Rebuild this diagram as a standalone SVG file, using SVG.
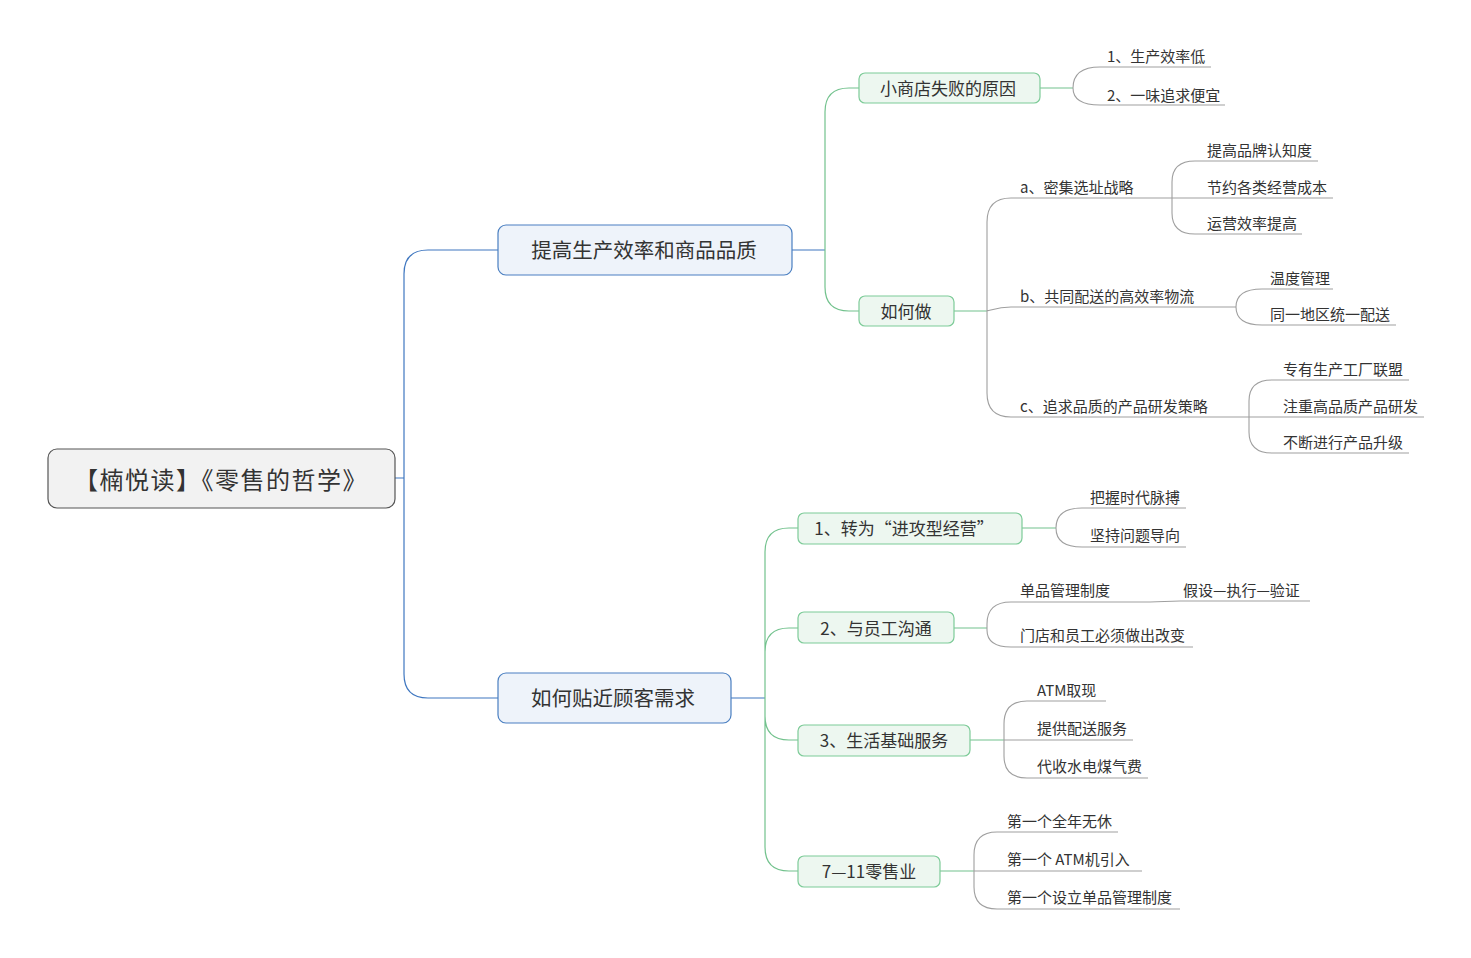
<svg xmlns="http://www.w3.org/2000/svg" width="1471" height="958" viewBox="0 0 1471 958">
<style>
text{font-family:"Microsoft YaHei","Noto Sans CJK SC","Noto Sans",sans-serif;fill:#333}
.root rect{fill:#f2f2f2;stroke:#555;stroke-width:1.2}
.main rect{fill:#eef3fa;stroke:#4a7fc1;stroke-width:1.2}
.sub rect{fill:#edf7f0;stroke:#7dcb98;stroke-width:1.2}
.c{text-anchor:middle;dominant-baseline:central}
.leaf{font-size:15px}
.blue{fill:none;stroke:#3f77c0;stroke-width:1.2}
.green{fill:none;stroke:#72c28d;stroke-width:1.2}
.gray{fill:none;stroke:#9f9f9f;stroke-width:1.1}
</style>
<rect width="1471" height="958" fill="#fff"/>
<g id="connectors">
<path class="blue" d="M395,478 H404 M404,478 V274 Q404,250 428,250 H498 M404,478 V674 Q404,698 428,698 H498"/>
<path class="blue" d="M792,250 H825 M731,698 H765"/>
<path class="green" d="M825,250 V112 Q825,88 849,88 H859 M825,250 V287 Q825,311 849,311 H859"/>
<path class="green" d="M765,698 V552 Q765,528 789,528 H798 M765,698 V652 Q765,628 789,628 H798 M765,698 V716 Q765,740 789,740 H798 M765,698 V847 Q765,871 789,871 H798"/>
<path class="green" d="M1040,88 H1073 M954,311 H987 M1022,528 H1056 M954,628 H987 M970,740 H1004 M940,871 H974"/>
<path class="gray" d="M1073,88 Q1073,67 1100,67 H1211 M1073,88 Q1073,105 1100,105 H1225"/>
<path class="gray" d="M987,311 V222 Q987,198 1011,198 H1333 M987,311 V393 Q987,417 1011,417 H1424 M987,311 C998,308 1000,307 1011,307 H1236"/>
<path class="gray" d="M1172,198 V182 Q1172,161 1195,161 H1318 M1172,198 V213 Q1172,234 1195,234 H1302"/>
<path class="gray" d="M1236,307 Q1236,289 1262,289 H1333 M1236,307 Q1236,325 1262,325 H1396"/>
<path class="gray" d="M1249,417 V401 Q1249,380 1272,380 H1409 M1249,417 V432 Q1249,453 1272,453 H1409"/>
<path class="gray" d="M1056,528 Q1056,508 1082,508 H1186 M1056,528 Q1056,547 1082,547 H1186"/>
<path class="gray" d="M987,628 V624 Q987,602 1011,602 H1150 C1163,602 1166,601 1180,601 H1310 M987,628 V630 Q987,647 1011,647 H1193"/>
<path class="gray" d="M1004,740 V724 Q1004,701 1027,701 H1106 M1004,740 H1133 M1004,740 V756 Q1004,778 1027,778 H1148"/>
<path class="gray" d="M974,871 V855 Q974,832 997,832 H1118 M974,871 H1142 M974,871 V887 Q974,909 997,909 H1180"/>
</g>
<g id="root" class="root"><rect x="48" y="449" width="347" height="59" rx="9"/><text class="c" x="221" y="478" font-size="24" letter-spacing="1.5">【楠悦读】《零售的哲学》</text></g>
<g id="b1" class="main"><rect x="498" y="225" width="294" height="50" rx="8"/><text class="c" x="644" y="249" font-size="20.5">提高生产效率和商品品质</text></g>
<g id="b2" class="main"><rect x="498" y="673" width="233" height="50" rx="8"/><text class="c" x="613" y="697" font-size="20.5">如何贴近顾客需求</text></g>
<g id="s1" class="sub"><rect x="859" y="73" width="181" height="30" rx="6"/><text class="c" x="948" y="87" font-size="17">小商店失败的原因</text></g>
<g id="s2" class="sub"><rect x="859" y="296" width="95" height="30" rx="6"/><text class="c" x="906" y="310" font-size="17">如何做</text></g>
<g id="s3" class="sub"><rect x="798" y="513" width="224" height="31" rx="6"/><text class="c" x="904" y="527" font-size="17">1、转为“进攻型经营”</text></g>
<g id="s4" class="sub"><rect x="798" y="612" width="156" height="31" rx="6"/><text class="c" x="876" y="627" font-size="17">2、与员工沟通</text></g>
<g id="s5" class="sub"><rect x="798" y="725" width="172" height="31" rx="6"/><text class="c" x="884" y="739" font-size="17">3、生活基础服务</text></g>
<g id="s6" class="sub"><rect x="798" y="856" width="142" height="31" rx="6"/><text class="c" x="869" y="870" font-size="17">7—11零售业</text></g>
<g id="leaves" class="leaf">
<text x="1107" y="62">1、生产效率低</text>
<text x="1107" y="101">2、一味追求便宜</text>
<text x="1020" y="193">a、密集选址战略</text>
<text x="1207" y="156">提高品牌认知度</text>
<text x="1207" y="193">节约各类经营成本</text>
<text x="1207" y="229">运营效率提高</text>
<text x="1020" y="302">b、共同配送的高效率物流</text>
<text x="1270" y="284">温度管理</text>
<text x="1270" y="320">同一地区统一配送</text>
<text x="1020" y="412">c、追求品质的产品研发策略</text>
<text x="1283" y="375">专有生产工厂联盟</text>
<text x="1283" y="412">注重高品质产品研发</text>
<text x="1283" y="448">不断进行产品升级</text>
<text x="1090" y="503">把握时代脉搏</text>
<text x="1090" y="541">坚持问题导向</text>
<text x="1020" y="596">单品管理制度</text>
<text x="1183" y="596">假设—执行—验证</text>
<text x="1020" y="641">门店和员工必须做出改变</text>
<text x="1037" y="696">ATM取现</text>
<text x="1037" y="734">提供配送服务</text>
<text x="1037" y="772">代收水电煤气费</text>
<text x="1007" y="827">第一个全年无休</text>
<text x="1007" y="865">第一个 ATM机引入</text>
<text x="1007" y="903">第一个设立单品管理制度</text>
</g>
</svg>
